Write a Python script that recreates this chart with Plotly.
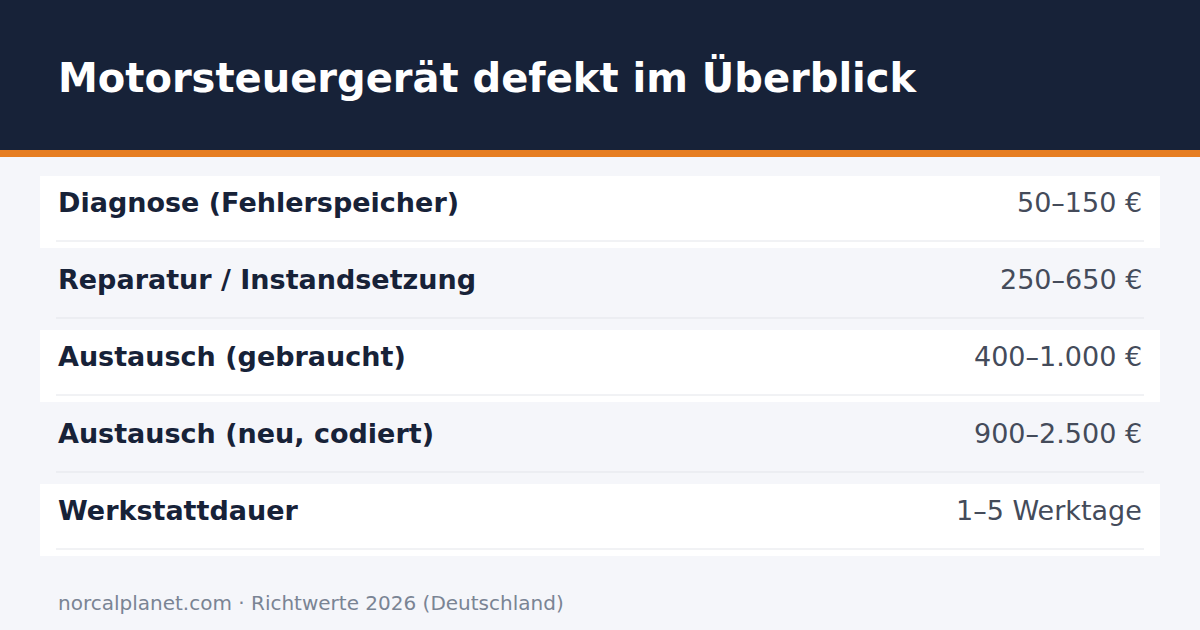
import plotly.graph_objects as go

title = "Motorsteuergerät defekt im Überblick"
labels = ["Diagnose (Fehlerspeicher)", "Reparatur / Instandsetzung",
          "Austausch (gebraucht)", "Austausch (neu, codiert)", "Werkstattdauer"]
values = ["50–150 €", "250–650 €", "400–1.000 €", "900–2.500 €", "1–5 Werktage"]
footer = "norcalplanet.com · Richtwerte 2026 (Deutschland)"

W, H = 1200, 630
fig = go.Figure()
shapes = [
    dict(type="rect", x0=0, x1=W, y0=0, y1=150, fillcolor="#172238", line_width=0, layer="below"),
    dict(type="rect", x0=0, x1=W, y0=150, y1=157, fillcolor="#e67e22", line_width=0, layer="below"),
]
ann = [dict(x=56, y=77, text="<b>" + title + "</b>", showarrow=False, xanchor="left",
            yanchor="middle", font=dict(size=40, color="white", family="DejaVu Sans"))]

top, pitch = 176, 77
for i, (lab, val) in enumerate(zip(labels, values)):
    y0 = top + i * pitch
    fill = "#ffffff" if i % 2 == 0 else "#f5f6fa"
    shapes.append(dict(type="rect", x0=40, x1=1160, y0=y0, y1=y0 + 72, fillcolor=fill,
                       line_width=0, layer="below"))
    shapes.append(dict(type="line", x0=56, x1=1144, y0=y0 + 65, y1=y0 + 65,
                       line=dict(color="#e3e5ea", width=1), layer="below"))
    ann.append(dict(x=56, y=y0 + 26, text="<b>" + lab + "</b>", showarrow=False,
                    xanchor="left", yanchor="middle",
                    font=dict(size=27, color="#172238", family="DejaVu Sans")))
    ann.append(dict(x=1144, y=y0 + 26, text=val, showarrow=False,
                    xanchor="right", yanchor="middle",
                    font=dict(size=27, color="#444b5a", family="DejaVu Sans")))

ann.append(dict(x=56, y=603, text=footer, showarrow=False, xanchor="left", yanchor="middle",
                font=dict(size=20, color="#7a8494", family="DejaVu Sans")))

fig.update_layout(
    width=W, height=H, margin=dict(l=0, r=0, t=0, b=0),
    paper_bgcolor="#f5f6fa", plot_bgcolor="#f5f6fa",
    xaxis=dict(range=[0, W], visible=False, fixedrange=True),
    yaxis=dict(range=[H, 0], visible=False, fixedrange=True),
    shapes=shapes, annotations=ann, showlegend=False,
)
fig.write_html("out.html", config={"displayModeBar": False},
               post_script="document.body.style.margin='0';document.body.style.overflow='hidden';")
